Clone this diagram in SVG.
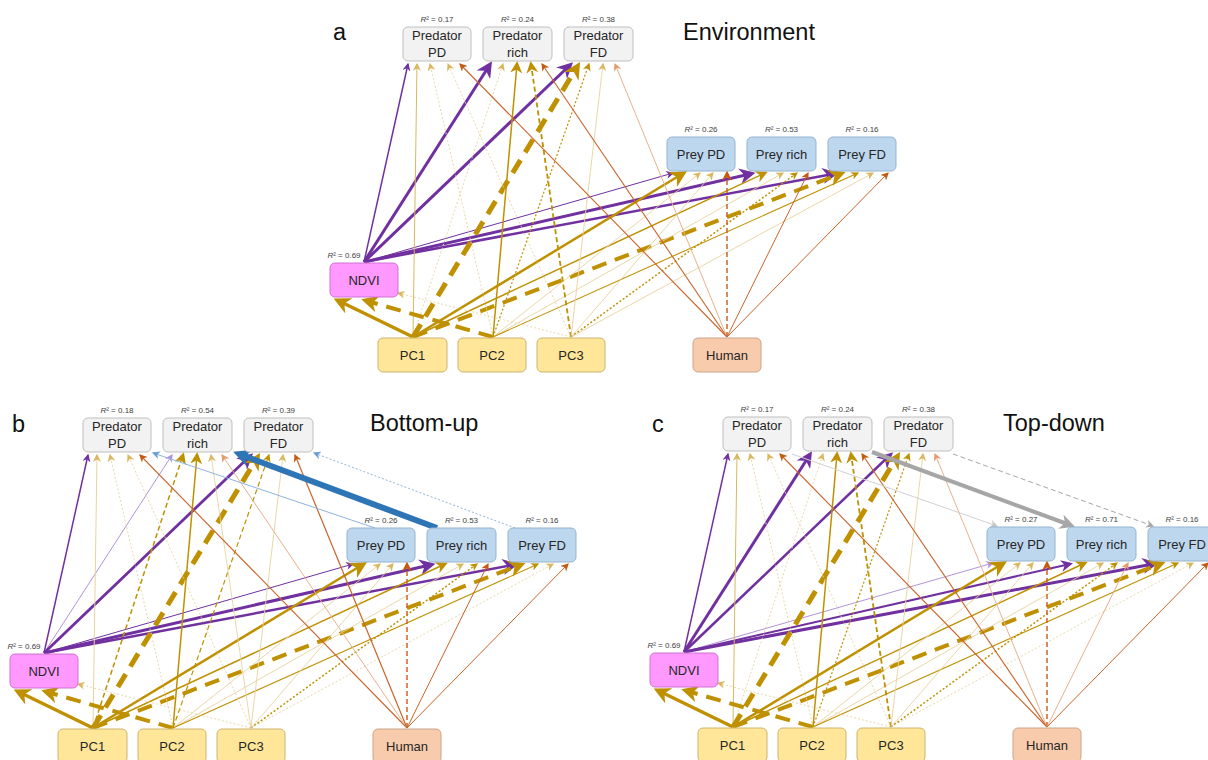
<svg xmlns="http://www.w3.org/2000/svg" width="1208" height="760" viewBox="0 0 1208 760">
<style>
line{fill:none}
.pu{stroke:#7030a0;marker-end:url(#pu1)} .pu.M{marker-end:url(#pu2)} .pu.B{marker-end:url(#pu3)}
.puL{stroke:#b294d6;marker-end:url(#puL1)}
.go{stroke:#bf9000;marker-end:url(#go1)} .go.M{marker-end:url(#go2)} .go.B{marker-end:url(#go3)}
.goM{stroke:#d8b85e;marker-end:url(#goL1)}
.goL{stroke:#e8d39e;marker-end:url(#goL1)}
.or{stroke:#c9642a;marker-end:url(#or1)} .or.M{marker-end:url(#or2)}
.orL{stroke:#eab08c;marker-end:url(#orL1)}
.bl{stroke:#2e75b6;marker-end:url(#bl3)}
.blL{stroke:#8db4dc;marker-end:url(#blL1)}
.gr{stroke:#a6a6a6;marker-end:url(#gr1)} .gr.B{marker-end:url(#gr3)}
.grL{stroke:#d0d0d0;marker-end:url(#grL1)}
.da{stroke-dasharray:5 3} .db{stroke-dasharray:15 9} .dt{stroke-dasharray:2 2}
.node rect{stroke-width:1}
.pred rect{fill:#f2f2f2;stroke:#bfbfbf}
.prey rect{fill:#bdd7ee;stroke:#97b3cf}
.ndvi rect{fill:#ff99ff;stroke:#d070d0}
.pc rect{fill:#ffe699;stroke:#cdb46e}
.hum rect{fill:#f8cbad;stroke:#c9a58c}
text{font-family:"Liberation Sans",Arial,sans-serif}
.lbl{font-size:13px;text-anchor:middle;fill:#262626}
.r2{font-size:8px;text-anchor:middle;fill:#404040}
.ttl{font-size:23.5px;fill:#111}
</style>
<defs>
<path id="ah" d="M0,0 L10,5 L0,10 L3,5 z"/>
<marker id="pu1" viewBox="0 0 10 10" refX="8.5" refY="5" markerWidth="8" markerHeight="8" markerUnits="userSpaceOnUse" orient="auto"><use href="#ah" fill="#7030a0"/></marker>
<marker id="pu2" viewBox="0 0 10 10" refX="7.5" refY="5" markerWidth="12" markerHeight="12" markerUnits="userSpaceOnUse" orient="auto"><use href="#ah" fill="#7030a0"/></marker>
<marker id="pu3" viewBox="0 0 10 10" refX="6.5" refY="5" markerWidth="16" markerHeight="16" markerUnits="userSpaceOnUse" orient="auto"><use href="#ah" fill="#7030a0"/></marker>
<marker id="puL1" viewBox="0 0 10 10" refX="8.5" refY="5" markerWidth="8" markerHeight="8" markerUnits="userSpaceOnUse" orient="auto"><use href="#ah" fill="#b294d6"/></marker>
<marker id="go1" viewBox="0 0 10 10" refX="8.5" refY="5" markerWidth="8" markerHeight="8" markerUnits="userSpaceOnUse" orient="auto"><use href="#ah" fill="#bf9000"/></marker>
<marker id="go2" viewBox="0 0 10 10" refX="7.5" refY="5" markerWidth="12" markerHeight="12" markerUnits="userSpaceOnUse" orient="auto"><use href="#ah" fill="#bf9000"/></marker>
<marker id="go3" viewBox="0 0 10 10" refX="6.5" refY="5" markerWidth="17" markerHeight="17" markerUnits="userSpaceOnUse" orient="auto"><use href="#ah" fill="#bf9000"/></marker>
<marker id="goL1" viewBox="0 0 10 10" refX="8.5" refY="5" markerWidth="8" markerHeight="8" markerUnits="userSpaceOnUse" orient="auto"><use href="#ah" fill="#d9b860"/></marker>
<marker id="or1" viewBox="0 0 10 10" refX="8.5" refY="5" markerWidth="8" markerHeight="8" markerUnits="userSpaceOnUse" orient="auto"><use href="#ah" fill="#c55a11"/></marker>
<marker id="or2" viewBox="0 0 10 10" refX="7.5" refY="5" markerWidth="10" markerHeight="10" markerUnits="userSpaceOnUse" orient="auto"><use href="#ah" fill="#c55a11"/></marker>
<marker id="orL1" viewBox="0 0 10 10" refX="8.5" refY="5" markerWidth="8" markerHeight="8" markerUnits="userSpaceOnUse" orient="auto"><use href="#ah" fill="#e39a6c"/></marker>
<marker id="bl3" viewBox="0 0 10 10" refX="6.5" refY="5" markerWidth="18" markerHeight="18" markerUnits="userSpaceOnUse" orient="auto"><use href="#ah" fill="#2e75b6"/></marker>
<marker id="blL1" viewBox="0 0 10 10" refX="8.5" refY="5" markerWidth="8" markerHeight="8" markerUnits="userSpaceOnUse" orient="auto"><use href="#ah" fill="#6a9fd4"/></marker>
<marker id="gr1" viewBox="0 0 10 10" refX="8.5" refY="5" markerWidth="8" markerHeight="8" markerUnits="userSpaceOnUse" orient="auto"><use href="#ah" fill="#a6a6a6"/></marker>
<marker id="gr3" viewBox="0 0 10 10" refX="6.5" refY="5" markerWidth="15" markerHeight="15" markerUnits="userSpaceOnUse" orient="auto"><use href="#ah" fill="#a6a6a6"/></marker>
<marker id="grL1" viewBox="0 0 10 10" refX="8.5" refY="5" markerWidth="8" markerHeight="8" markerUnits="userSpaceOnUse" orient="auto"><use href="#ah" fill="#c8c8c8"/></marker>
</defs>
<rect width="1208" height="760" fill="#fff"/>

<!-- titles -->
<text class="ttl" x="333" y="40" font-size="22">a</text>
<text class="ttl" x="683" y="40">Environment</text>
<text class="ttl" x="12" y="432" font-size="22">b</text>
<text class="ttl" x="370" y="431">Bottom-up</text>
<text class="ttl" x="652" y="432" font-size="22">c</text>
<text class="ttl" x="1003" y="431">Top-down</text>

<!-- ================= PANEL A ================= -->
<g id="panel-a">
<g id="connectors-a">
<line class="pu" stroke-width="1.5" x1="364" y1="262" x2="408" y2="64"/>
<line class="pu B" stroke-width="3" x1="364" y1="262" x2="489" y2="66"/>
<line class="pu B" stroke-width="3" x1="364" y1="262" x2="569" y2="66"/>
<line class="pu" stroke-width="1" x1="364" y1="262" x2="673" y2="173"/>
<line class="pu B" stroke-width="3" x1="364" y1="262" x2="750" y2="174"/>
<line class="pu B" stroke-width="2.5" x1="364" y1="262" x2="833" y2="174"/>
<line class="go B" stroke-width="3.5" x1="413" y1="337" x2="339" y2="301"/>
<line class="goM" stroke-width="1" x1="413" y1="337" x2="417" y2="64"/>
<line class="goL dt" stroke-width="0.9" x1="413" y1="337" x2="503" y2="64"/>
<line class="go B db" stroke-width="5" x1="413" y1="337" x2="577" y2="67"/>
<line class="go B" stroke-width="2.5" x1="413" y1="337" x2="682" y2="174"/>
<line class="go M" stroke-width="1.5" x1="413" y1="337" x2="765" y2="173"/>
<line class="go B db" stroke-width="4" x1="413" y1="337" x2="840" y2="174"/>
<line class="go B db" stroke-width="4" x1="493" y1="337" x2="367" y2="301"/>
<line class="goL dt" stroke-width="0.9" x1="493" y1="337" x2="430" y2="64"/>
<line class="go M" stroke-width="1.5" x1="493" y1="337" x2="517" y2="64"/>
<line class="go dt" stroke-width="1.2" x1="493" y1="337" x2="589" y2="64"/>
<line class="goL" stroke-width="0.9" x1="493" y1="337" x2="700" y2="173"/>
<line class="goL" stroke-width="0.9" x1="493" y1="337" x2="783" y2="173"/>
<line class="go" stroke-width="1.1" x1="493" y1="337" x2="858" y2="173"/>
<line class="goL dt" stroke-width="0.9" x1="571" y1="337" x2="398" y2="293"/>
<line class="goL dt" stroke-width="0.9" x1="571" y1="337" x2="448" y2="64"/>
<line class="go M da" stroke-width="1.8" x1="571" y1="337" x2="531" y2="64"/>
<line class="goL" stroke-width="0.9" x1="571" y1="337" x2="603" y2="64"/>
<line class="goL" stroke-width="0.9" x1="571" y1="337" x2="713" y2="173"/>
<line class="go dt" stroke-width="1.5" x1="571" y1="337" x2="797" y2="173"/>
<line class="goL" stroke-width="0.9" x1="571" y1="337" x2="873" y2="173"/>
<line class="or" stroke-width="1.1" x1="727" y1="337" x2="460" y2="64"/>
<line class="or" stroke-width="1.1" x1="727" y1="337" x2="542" y2="64"/>
<line class="orL" stroke-width="1" x1="727" y1="337" x2="615" y2="64"/>
<line class="or M da" stroke-width="1.5" x1="727" y1="337" x2="727" y2="173"/>
<line class="or" stroke-width="1" x1="727" y1="337" x2="808" y2="173"/>
<line class="or" stroke-width="1" x1="727" y1="337" x2="888" y2="173"/>
</g>
<g id="a-predPD" class="node pred"><rect x="403" y="27" width="68" height="34" rx="5"/><text class="lbl" x="437" y="40">Predator</text><text class="lbl" x="437" y="57">PD</text><text class="r2" x="437" y="22"><tspan font-style="italic">R</tspan>² = 0.17</text></g>
<g id="a-predRich" class="node pred"><rect x="483" y="27" width="69" height="34" rx="5"/><text class="lbl" x="517.5" y="40">Predator</text><text class="lbl" x="517.5" y="57">rich</text><text class="r2" x="517.5" y="22"><tspan font-style="italic">R</tspan>² = 0.24</text></g>
<g id="a-predFD" class="node pred"><rect x="564" y="27" width="69" height="34" rx="5"/><text class="lbl" x="598.5" y="40">Predator</text><text class="lbl" x="598.5" y="57">FD</text><text class="r2" x="598.5" y="22"><tspan font-style="italic">R</tspan>² = 0.38</text></g>
<g id="a-preyPD" class="node prey"><rect x="667" y="137" width="68" height="34" rx="5"/><text class="lbl" x="701" y="159">Prey PD</text><text class="r2" x="701" y="132"><tspan font-style="italic">R</tspan>² = 0.26</text></g>
<g id="a-preyRich" class="node prey"><rect x="747" y="137" width="69" height="34" rx="5"/><text class="lbl" x="781.5" y="159">Prey rich</text><text class="r2" x="781.5" y="132"><tspan font-style="italic">R</tspan>² = 0.53</text></g>
<g id="a-preyFD" class="node prey"><rect x="828" y="137" width="68" height="34" rx="5"/><text class="lbl" x="862" y="159">Prey FD</text><text class="r2" x="862" y="132"><tspan font-style="italic">R</tspan>² = 0.16</text></g>
<g id="a-ndvi" class="node ndvi"><rect x="330" y="263" width="68" height="34" rx="5"/><text class="lbl" x="364" y="285">NDVI</text><text class="r2" x="344" y="258"><tspan font-style="italic">R</tspan>² = 0.69</text></g>
<g id="a-pc1" class="node pc"><rect x="378" y="338" width="69" height="34" rx="5"/><text class="lbl" x="412.5" y="360">PC1</text></g>
<g id="a-pc2" class="node pc"><rect x="458" y="338" width="68" height="34" rx="5"/><text class="lbl" x="492" y="360">PC2</text></g>
<g id="a-pc3" class="node pc"><rect x="537" y="338" width="68" height="34" rx="5"/><text class="lbl" x="571" y="360">PC3</text></g>
<g id="a-human" class="node hum"><rect x="693" y="338" width="68" height="34" rx="5"/><text class="lbl" x="727" y="360">Human</text></g>
</g>

<!-- ================= PANEL B ================= -->
<g id="panel-b" transform="translate(-320,391)">
<g id="connectors-b">
<line class="pu" stroke-width="1.5" x1="364" y1="262" x2="408" y2="64"/>
<line class="puL" stroke-width="1" x1="364" y1="262" x2="492" y2="64"/>
<line class="pu B" stroke-width="2.8" x1="364" y1="262" x2="569" y2="66"/>
<line class="pu" stroke-width="1" x1="364" y1="262" x2="673" y2="173"/>
<line class="pu B" stroke-width="3" x1="364" y1="262" x2="750" y2="174"/>
<line class="pu B" stroke-width="2.5" x1="364" y1="262" x2="833" y2="174"/>
<line class="go B" stroke-width="3.5" x1="413" y1="337" x2="339" y2="301"/>
<line class="goL" stroke-width="1" x1="413" y1="337" x2="417" y2="64"/>
<line class="go M da" stroke-width="1.5" x1="413" y1="337" x2="503" y2="64"/>
<line class="go B db" stroke-width="5" x1="413" y1="337" x2="577" y2="67"/>
<line class="go B" stroke-width="2.5" x1="413" y1="337" x2="682" y2="174"/>
<line class="go M" stroke-width="1.5" x1="413" y1="337" x2="765" y2="173"/>
<line class="go B db" stroke-width="4" x1="413" y1="337" x2="840" y2="174"/>
<line class="go B db" stroke-width="4" x1="493" y1="337" x2="367" y2="301"/>
<line class="goL dt" stroke-width="0.9" x1="493" y1="337" x2="430" y2="64"/>
<line class="go M" stroke-width="1.5" x1="493" y1="337" x2="517" y2="64"/>
<line class="go da" stroke-width="1.2" x1="493" y1="337" x2="589" y2="64"/>
<line class="goL" stroke-width="0.9" x1="493" y1="337" x2="700" y2="173"/>
<line class="goL" stroke-width="0.9" x1="493" y1="337" x2="783" y2="173"/>
<line class="go" stroke-width="1.1" x1="493" y1="337" x2="858" y2="173"/>
<line class="goL dt" stroke-width="0.9" x1="571" y1="337" x2="398" y2="293"/>
<line class="goL dt" stroke-width="0.9" x1="571" y1="337" x2="448" y2="64"/>
<line class="goL" stroke-width="0.9" x1="571" y1="337" x2="531" y2="64"/>
<line class="goL" stroke-width="0.9" x1="571" y1="337" x2="603" y2="64"/>
<line class="goL" stroke-width="0.9" x1="571" y1="337" x2="713" y2="173"/>
<line class="go dt" stroke-width="1.5" x1="571" y1="337" x2="797" y2="173"/>
<line class="goL dt" stroke-width="0.9" x1="571" y1="337" x2="873" y2="173"/>
<line class="or" stroke-width="1.1" x1="727" y1="337" x2="460" y2="64"/>
<line class="orL" stroke-width="1" x1="727" y1="337" x2="542" y2="64"/>
<line class="or" stroke-width="1.2" x1="727" y1="337" x2="615" y2="64"/>
<line class="or M da" stroke-width="1.5" x1="727" y1="337" x2="727" y2="173"/>
<line class="or" stroke-width="1" x1="727" y1="337" x2="808" y2="173"/>
<line class="or" stroke-width="1" x1="727" y1="337" x2="888" y2="173"/>
<line class="bl" stroke-width="6" x1="757" y1="137" x2="559" y2="63"/>
<line class="blL" stroke-width="1" x1="695" y1="137" x2="473" y2="62"/>
<line class="blL dt" stroke-width="1" x1="835" y1="137" x2="634" y2="62"/>
</g>
<g id="b-predPD" class="node pred"><rect x="403" y="27" width="68" height="34" rx="5"/><text class="lbl" x="437" y="40">Predator</text><text class="lbl" x="437" y="57">PD</text><text class="r2" x="437" y="22"><tspan font-style="italic">R</tspan>² = 0.18</text></g>
<g id="b-predRich" class="node pred"><rect x="483" y="27" width="69" height="34" rx="5"/><text class="lbl" x="517.5" y="40">Predator</text><text class="lbl" x="517.5" y="57">rich</text><text class="r2" x="517.5" y="22"><tspan font-style="italic">R</tspan>² = 0.54</text></g>
<g id="b-predFD" class="node pred"><rect x="564" y="27" width="69" height="34" rx="5"/><text class="lbl" x="598.5" y="40">Predator</text><text class="lbl" x="598.5" y="57">FD</text><text class="r2" x="598.5" y="22"><tspan font-style="italic">R</tspan>² = 0.39</text></g>
<g id="b-preyPD" class="node prey"><rect x="667" y="137" width="68" height="34" rx="5"/><text class="lbl" x="701" y="159">Prey PD</text><text class="r2" x="701" y="132"><tspan font-style="italic">R</tspan>² = 0.26</text></g>
<g id="b-preyRich" class="node prey"><rect x="747" y="137" width="69" height="34" rx="5"/><text class="lbl" x="781.5" y="159">Prey rich</text><text class="r2" x="781.5" y="132"><tspan font-style="italic">R</tspan>² = 0.53</text></g>
<g id="b-preyFD" class="node prey"><rect x="828" y="137" width="68" height="34" rx="5"/><text class="lbl" x="862" y="159">Prey FD</text><text class="r2" x="862" y="132"><tspan font-style="italic">R</tspan>² = 0.16</text></g>
<g id="b-ndvi" class="node ndvi"><rect x="330" y="263" width="68" height="34" rx="5"/><text class="lbl" x="364" y="285">NDVI</text><text class="r2" x="344" y="258"><tspan font-style="italic">R</tspan>² = 0.69</text></g>
<g id="b-pc1" class="node pc"><rect x="378" y="338" width="69" height="34" rx="5"/><text class="lbl" x="412.5" y="360">PC1</text></g>
<g id="b-pc2" class="node pc"><rect x="458" y="338" width="68" height="34" rx="5"/><text class="lbl" x="492" y="360">PC2</text></g>
<g id="b-pc3" class="node pc"><rect x="537" y="338" width="68" height="34" rx="5"/><text class="lbl" x="571" y="360">PC3</text></g>
<g id="b-human" class="node hum"><rect x="693" y="338" width="68" height="34" rx="5"/><text class="lbl" x="727" y="360">Human</text></g>
</g>

<!-- ================= PANEL C ================= -->
<g id="panel-c" transform="translate(320,390)">
<g id="connectors-c">
<line class="pu" stroke-width="1.5" x1="364" y1="262" x2="408" y2="64"/>
<line class="pu B" stroke-width="3" x1="364" y1="262" x2="489" y2="66"/>
<line class="pu B" stroke-width="2.5" x1="364" y1="262" x2="569" y2="66"/>
<line class="puL" stroke-width="1" x1="364" y1="262" x2="673" y2="173"/>
<line class="pu M" stroke-width="2" x1="364" y1="262" x2="750" y2="174"/>
<line class="pu B" stroke-width="3" x1="364" y1="262" x2="833" y2="174"/>
<line class="go B" stroke-width="3.5" x1="413" y1="337" x2="339" y2="301"/>
<line class="goM" stroke-width="1" x1="413" y1="337" x2="417" y2="64"/>
<line class="goL dt" stroke-width="0.9" x1="413" y1="337" x2="503" y2="64"/>
<line class="go B db" stroke-width="5" x1="413" y1="337" x2="577" y2="67"/>
<line class="go B" stroke-width="2.5" x1="413" y1="337" x2="682" y2="174"/>
<line class="go M" stroke-width="1.5" x1="413" y1="337" x2="765" y2="173"/>
<line class="go B db" stroke-width="4" x1="413" y1="337" x2="840" y2="174"/>
<line class="go B db" stroke-width="4" x1="493" y1="337" x2="367" y2="301"/>
<line class="goL dt" stroke-width="0.9" x1="493" y1="337" x2="430" y2="64"/>
<line class="go M" stroke-width="1.5" x1="493" y1="337" x2="517" y2="64"/>
<line class="go dt" stroke-width="1.2" x1="493" y1="337" x2="589" y2="64"/>
<line class="goL" stroke-width="0.9" x1="493" y1="337" x2="700" y2="173"/>
<line class="goL" stroke-width="0.9" x1="493" y1="337" x2="783" y2="173"/>
<line class="go" stroke-width="1.1" x1="493" y1="337" x2="858" y2="173"/>
<line class="goL dt" stroke-width="0.9" x1="571" y1="337" x2="398" y2="293"/>
<line class="goL dt" stroke-width="0.9" x1="571" y1="337" x2="448" y2="64"/>
<line class="go M da" stroke-width="1.8" x1="571" y1="337" x2="531" y2="64"/>
<line class="goL" stroke-width="0.9" x1="571" y1="337" x2="603" y2="64"/>
<line class="goL" stroke-width="0.9" x1="571" y1="337" x2="713" y2="173"/>
<line class="go dt" stroke-width="1.5" x1="571" y1="337" x2="797" y2="173"/>
<line class="goL dt" stroke-width="0.9" x1="571" y1="337" x2="873" y2="173"/>
<line class="or" stroke-width="1.1" x1="727" y1="337" x2="460" y2="64"/>
<line class="or" stroke-width="1.1" x1="727" y1="337" x2="542" y2="64"/>
<line class="orL" stroke-width="1" x1="727" y1="337" x2="615" y2="64"/>
<line class="or M da" stroke-width="1.5" x1="727" y1="337" x2="727" y2="173"/>
<line class="orL" stroke-width="1" x1="727" y1="337" x2="808" y2="173"/>
<line class="or" stroke-width="1" x1="727" y1="337" x2="888" y2="173"/>
<line class="gr B" stroke-width="4" x1="552" y1="62" x2="750" y2="135"/>
<line class="grL" stroke-width="1" x1="472" y1="64" x2="677" y2="136"/>
<line class="gr da" stroke-width="1" x1="633" y1="64" x2="833" y2="136"/>
</g>
<g id="c-predPD" class="node pred"><rect x="403" y="27" width="68" height="34" rx="5"/><text class="lbl" x="437" y="40">Predator</text><text class="lbl" x="437" y="57">PD</text><text class="r2" x="437" y="22"><tspan font-style="italic">R</tspan>² = 0.17</text></g>
<g id="c-predRich" class="node pred"><rect x="483" y="27" width="69" height="34" rx="5"/><text class="lbl" x="517.5" y="40">Predator</text><text class="lbl" x="517.5" y="57">rich</text><text class="r2" x="517.5" y="22"><tspan font-style="italic">R</tspan>² = 0.24</text></g>
<g id="c-predFD" class="node pred"><rect x="564" y="27" width="69" height="34" rx="5"/><text class="lbl" x="598.5" y="40">Predator</text><text class="lbl" x="598.5" y="57">FD</text><text class="r2" x="598.5" y="22"><tspan font-style="italic">R</tspan>² = 0.38</text></g>
<g id="c-preyPD" class="node prey"><rect x="667" y="137" width="68" height="34" rx="5"/><text class="lbl" x="701" y="159">Prey PD</text><text class="r2" x="701" y="132"><tspan font-style="italic">R</tspan>² = 0.27</text></g>
<g id="c-preyRich" class="node prey"><rect x="747" y="137" width="69" height="34" rx="5"/><text class="lbl" x="781.5" y="159">Prey rich</text><text class="r2" x="781.5" y="132"><tspan font-style="italic">R</tspan>² = 0.71</text></g>
<g id="c-preyFD" class="node prey"><rect x="828" y="137" width="68" height="34" rx="5"/><text class="lbl" x="862" y="159">Prey FD</text><text class="r2" x="862" y="132"><tspan font-style="italic">R</tspan>² = 0.16</text></g>
<g id="c-ndvi" class="node ndvi"><rect x="330" y="263" width="68" height="34" rx="5"/><text class="lbl" x="364" y="285">NDVI</text><text class="r2" x="344" y="258"><tspan font-style="italic">R</tspan>² = 0.69</text></g>
<g id="c-pc1" class="node pc"><rect x="378" y="338" width="69" height="34" rx="5"/><text class="lbl" x="412.5" y="360">PC1</text></g>
<g id="c-pc2" class="node pc"><rect x="458" y="338" width="68" height="34" rx="5"/><text class="lbl" x="492" y="360">PC2</text></g>
<g id="c-pc3" class="node pc"><rect x="537" y="338" width="68" height="34" rx="5"/><text class="lbl" x="571" y="360">PC3</text></g>
<g id="c-human" class="node hum"><rect x="693" y="338" width="68" height="34" rx="5"/><text class="lbl" x="727" y="360">Human</text></g>
</g>
</svg>
